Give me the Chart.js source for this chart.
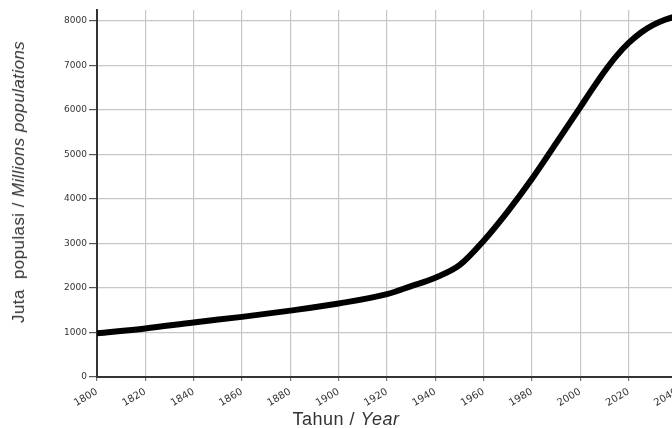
<!DOCTYPE html>
<html>
<head>
<meta charset="utf-8">
<title>Populasi dunia</title>
<script src="https://cdn.jsdelivr.net/npm/chart.js@4.4.1/dist/chart.umd.min.js"></script>
<style>
  html, body { margin: 0; padding: 0; background: #fff; overflow: hidden; }
  #wrap { position: relative; width: 672px; height: 428px; overflow: hidden; }
  #box { position: absolute; left: 0; top: 0; width: 700px; height: 428px; }
  .title { position: absolute; white-space: nowrap; color: #333;
           font-family: "Liberation Sans", Arial, sans-serif; }
  #ytitle { left: 19px; top: 182px; font-size: 17px; letter-spacing: 0.4px;
            transform: translate(-50%, -50%) rotate(-90deg); }
  #xtitle { left: 346px; top: 419px; font-size: 18px; letter-spacing: 0.5px;
            transform: translate(-50%, -50%); }
</style>
</head>
<body>
<div id="wrap">
  <div id="box"><canvas id="popChart"></canvas></div>
  <div class="title" id="ytitle">Juta&nbsp; populasi / <i>Millions populations</i></div>
  <div class="title" id="xtitle">Tahun / <i>Year</i></div>
</div>
<script>
// =========================================================
// DATA
// =========================================================
const years = [1800, 1820, 1840, 1860, 1880, 1900, 1920, 1930, 1940, 1950,
               1960, 1970, 1980, 1990, 2000, 2005, 2010, 2015, 2020,
               2025, 2030, 2035, 2040];
const population = [980, 1090, 1225, 1350, 1490, 1650, 1860, 2040, 2230, 2510,
                    3060, 3720, 4450, 5250, 6060, 6470, 6860, 7210, 7500,
                    7730, 7900, 8020, 8110];

const yearTicks = [1800, 1820, 1840, 1860, 1880, 1900, 1920, 1940, 1960, 1980, 2000, 2020, 2040];
const popTicks = [0, 1000, 2000, 3000, 4000, 5000, 6000, 7000, 8000];

const points = years.map((y, i) => ({ x: y, y: population[i] }));

const gridColor = "#c6c6c6";
const axisColor = "#333";

// =========================================================
// CHART
// =========================================================
new Chart(document.getElementById("popChart"), {
  type: "line",
  data: {
    datasets: [
      {
        data: points,
        borderColor: "#000",
        borderWidth: 6,
        pointRadius: 0,
        fill: false,
        cubicInterpolationMode: "monotone"
      }
    ]
  },
  options: {
    responsive: true,
    maintainAspectRatio: false,
    animation: false,
    layout: { padding: { top: 10, left: 0, right: 23, bottom: 0 } },
    plugins: {
      legend: { display: false },
      tooltip: { enabled: false }
    },
    scales: {
      x: {
        type: "linear",
        min: yearTicks[0],
        max: yearTicks[yearTicks.length - 1],
        afterBuildTicks: s => { s.ticks = yearTicks.map(v => ({ value: v })); },
        afterFit: s => { s.height = 51; s.paddingLeft = 0; s.paddingRight = 0; },
        ticks: {
          minRotation: 30,
          maxRotation: 30,
          autoSkip: false,
          padding: 5,
          color: axisColor,
          font: { family: "DejaVu Sans", size: 10 },
          callback: v => String(v)
        },
        grid: { color: gridColor, lineWidth: 1.2, tickLength: 4, tickColor: "#777" },
        border: { display: true, color: axisColor, width: 2 }
      },
      y: {
        min: 0,
        max: 8240,
        afterBuildTicks: s => { s.ticks = popTicks.map(v => ({ value: v })); },
        afterFit: s => { s.width = 97; s.paddingTop = 0; s.paddingBottom = 0; },
        ticks: {
          padding: 2,
          color: axisColor,
          font: { family: "DejaVu Sans", size: 9 },
          callback: v => String(v)
        },
        grid: { color: gridColor, lineWidth: 1.2, tickLength: 8, tickColor: "#555" },
        border: { display: true, color: axisColor, width: 2 }
      }
    }
  }
});
</script>
</body>
</html>
